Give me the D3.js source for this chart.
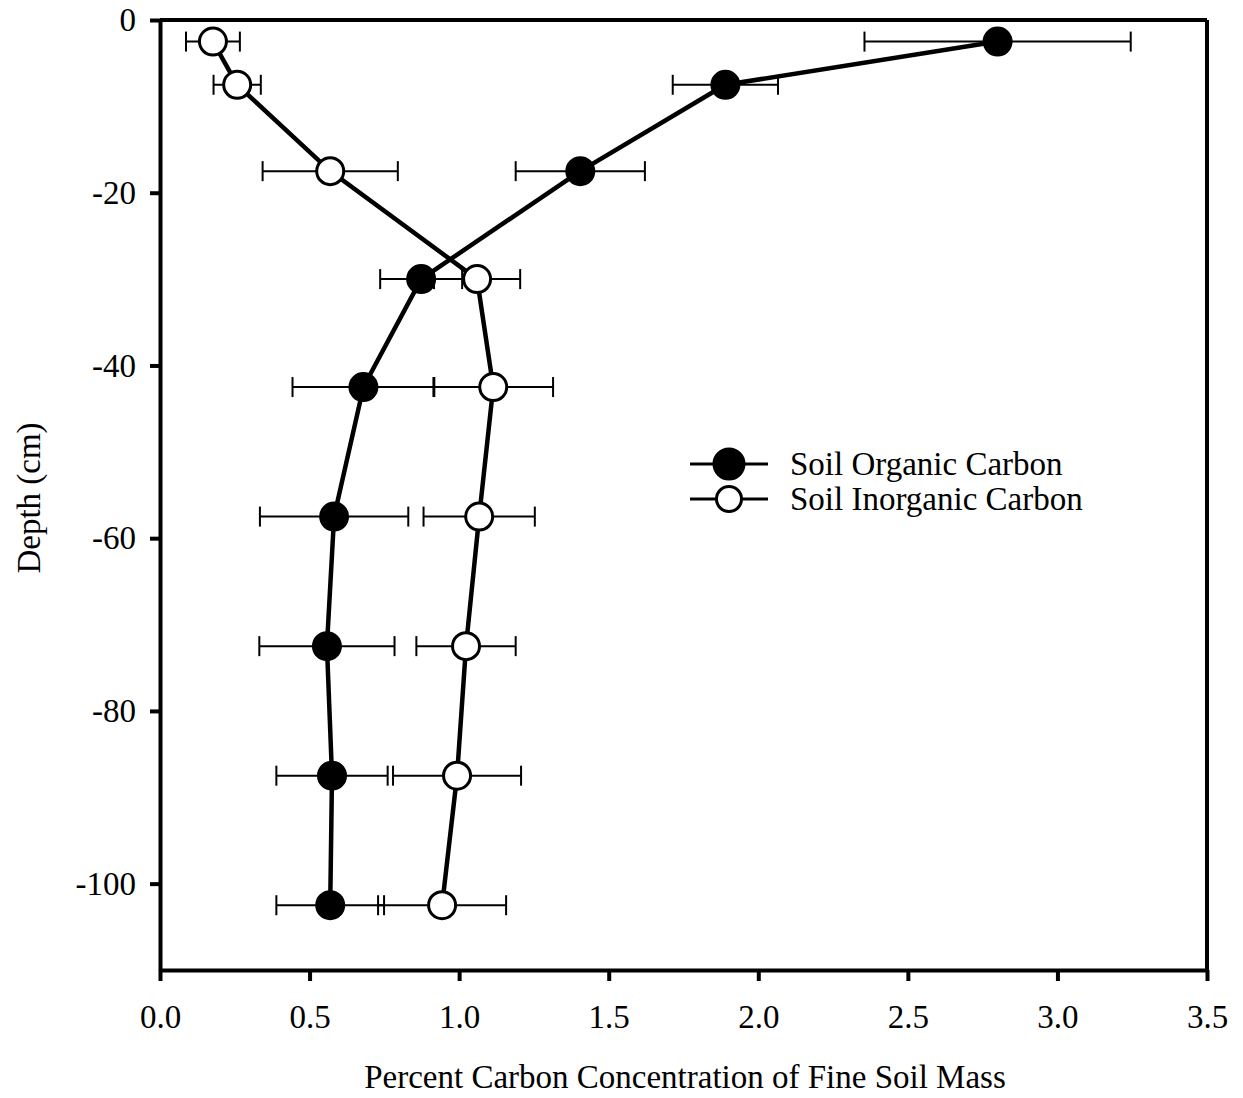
<!DOCTYPE html>
<html>
<head>
<meta charset="utf-8">
<script src="https://cdn.jsdelivr.net/npm/d3@7"></script>
<style>
  body { margin: 0; background: #fff; }
  text { font-family: "Liberation Serif", "Times New Roman", serif; fill: #000; }
</style>
</head>
<body>
<div id="chart"></div>
<script>
// depths (cm) of each sample layer
var depths = [-2.5, -7.5, -17.5, -30, -42.5, -57.5, -72.5, -87.5, -102.5];

// soil organic carbon (%) and its error
var organic = [2.80, 1.89, 1.405, 0.873, 0.68, 0.582, 0.558, 0.575, 0.569];
var organicErr = [0.445, 0.176, 0.216, 0.137, 0.237, 0.248, 0.226, 0.186, 0.18];

// soil inorganic carbon (%) and its error
var inorganic = [0.177, 0.258, 0.569, 1.06, 1.114, 1.067, 1.023, 0.993, 0.943];
var inorganicErr = [0.09, 0.079, 0.226, 0.144, 0.20, 0.186, 0.166, 0.214, 0.214];

var xTicks = [0, 0.5, 1, 1.5, 2, 2.5, 3, 3.5];
var yTicks = [0, -20, -40, -60, -80, -100];

var seriesNames = ["Soil Organic Carbon", "Soil Inorganic Carbon"];

window.onload = function() {
  var width = 1243;
  var height = 1098;
  var fontSize = "33px";

  var svg = d3.select("#chart")
              .append("svg")
              .attr("width", width)
              .attr("height", height);

  // plot area
  var left = 160, right = 1207, top = 20, bottom = 970;

  var x = d3.scaleLinear().domain([0, 3.5]).range([left, right]);
  var y = d3.scaleLinear().domain([0, -110]).range([top, bottom]);

  // frame on top and right
  svg.append("line")
     .attr("x1", left).attr("x2", right)
     .attr("y1", top).attr("y2", top)
     .attr("stroke", "#000").attr("stroke-width", 4);
  svg.append("line")
     .attr("x1", right).attr("x2", right)
     .attr("y1", top).attr("y2", bottom)
     .attr("stroke", "#000").attr("stroke-width", 4);

  // axes
  var xAxis = svg.append("g")
    .attr("transform", "translate(0," + bottom + ")")
    .call(d3.axisBottom(x).tickValues(xTicks).tickSize(11).tickSizeOuter(0)
            .tickPadding(24).tickFormat(d3.format(".1f")));
  var yAxis = svg.append("g")
    .attr("transform", "translate(" + left + ",0)")
    .call(d3.axisLeft(y).tickValues(yTicks).tickSize(10).tickSizeOuter(0)
            .tickPadding(14).tickFormat(function(d) { return String(d); }));

  [xAxis, yAxis].forEach(function(g) {
    g.select(".domain").attr("stroke-width", 4);
    g.selectAll(".tick line").attr("stroke-width", 4);
    g.selectAll("text")
     .style("font-family", "Liberation Serif, serif")
     .style("font-size", fontSize)
     .attr("fill", "#000");
  });

  // axis titles
  svg.append("text")
     .attr("x", 685).attr("y", 1088)
     .attr("text-anchor", "middle")
     .style("font-size", fontSize)
     .text("Percent Carbon Concentration of Fine Soil Mass");
  svg.append("text")
     .attr("transform", "translate(40," + ((top + bottom) / 2 + 3) + ") rotate(-90)")
     .attr("text-anchor", "middle")
     .style("font-size", fontSize)
     .text("Depth (cm)");

  var series = [
    { values: organic, err: organicErr, fill: "#000" },
    { values: inorganic, err: inorganicErr, fill: "#fff" }
  ];

  var line = d3.line()
    .x(function(d) { return x(d[0]); })
    .y(function(d) { return y(d[1]); });

  // connecting lines
  series.forEach(function(s) {
    var pts = s.values.map(function(v, i) { return [v, depths[i]]; });
    svg.append("path")
       .datum(pts)
       .attr("d", line)
       .attr("fill", "none")
       .attr("stroke", "#000")
       .attr("stroke-width", 4.5);
  });

  // error bars
  series.forEach(function(s) {
    var g = svg.append("g").attr("stroke", "#000").attr("stroke-width", 2);
    s.values.forEach(function(v, i) {
      var yy = y(depths[i]);
      var x0 = x(v - s.err[i]), x1 = x(v + s.err[i]);
      g.append("line").attr("x1", x0).attr("x2", x1).attr("y1", yy).attr("y2", yy);
      g.append("line").attr("x1", x0).attr("x2", x0).attr("y1", yy - 10).attr("y2", yy + 10);
      g.append("line").attr("x1", x1).attr("x2", x1).attr("y1", yy - 10).attr("y2", yy + 10);
    });
  });

  // markers
  series.forEach(function(s) {
    svg.append("g")
       .selectAll("circle")
       .data(s.values)
       .enter()
       .append("circle")
       .attr("cx", function(d) { return x(d); })
       .attr("cy", function(d, i) { return y(depths[i]); })
       .attr("r", 13.5)
       .attr("fill", s.fill)
       .attr("stroke", "#000")
       .attr("stroke-width", 3);
  });

  // legend
  var legend = svg.append("g");
  seriesNames.forEach(function(name, i) {
    var ly = 464 + i * 35;
    legend.append("line")
          .attr("x1", 690).attr("x2", 768)
          .attr("y1", ly).attr("y2", ly)
          .attr("stroke", "#000").attr("stroke-width", 3);
    legend.append("circle")
          .attr("cx", 729).attr("cy", ly)
          .attr("r", i === 0 ? 15 : 12.5)
          .attr("fill", series[i].fill)
          .attr("stroke", "#000").attr("stroke-width", 3);
    legend.append("text")
          .attr("x", 790).attr("y", ly + 11)
          .style("font-size", fontSize)
          .text(name);
  });
};
</script>
</body>
</html>
